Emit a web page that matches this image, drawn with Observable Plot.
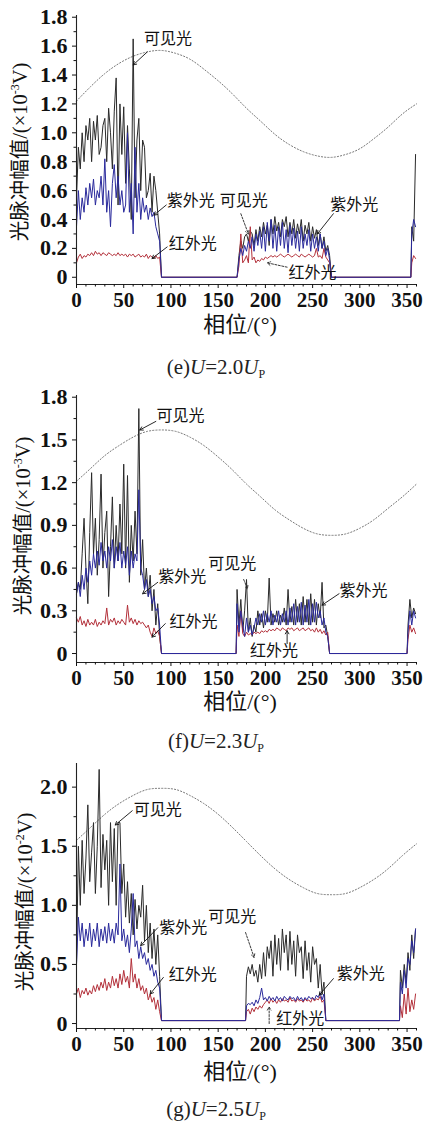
<!DOCTYPE html>
<html><head><meta charset="utf-8">
<script src="https://cdn.jsdelivr.net/npm/d3@7"></script>
<script src="https://cdn.jsdelivr.net/npm/@observablehq/plot@0.6"></script>
<style>
body{margin:0;background:#fff;}
#wrap{position:relative;width:423px;height:1125px;overflow:hidden;font-family:"Liberation Serif","Noto Sans CJK SC",serif;color:#111;}
.abs{position:absolute;white-space:nowrap;line-height:1;}
.ytitle{font-size:20.5px;transform:translate(-50%,-50%) rotate(-90deg);}
.xtitle{font-size:22px;transform:translate(-50%,-50%);}
.cap{font-size:21px;transform:translate(-50%,-50%);color:#222;}
sup{font-size:12px;vertical-align:8px;}
sub{font-size:12px;vertical-align:-4px;}
</style></head><body><div id="wrap"></div>
<script>
// ---------- shared ----------
const xMajor = [0, 50, 100, 150, 200, 250, 300, 350];
const xMinor = [10,20,30,40,60,70,80,90,110,120,130,140,160,170,180,190,210,220,230,240,260,270,280,290,310,320,330,340,360];
const sinePhase = [0,15,30,45,60,75,90,105,120,135,150,165,180,195,210,225,240,255,270,285,300,315,330,345,360];

// ---------- panel (e) U=2.0Up ----------
const yMajorE = [0,0.2,0.4,0.6,0.8,1.0,1.2,1.4,1.6,1.8];
const yMinorE = [0.1,0.3,0.5,0.7,0.9,1.1,1.3,1.5,1.7];
const edgesE = [90, 170, 270, 354];
const baseE = 0;
const phaseE_a = d3.range(0, 90, 2);
const phaseE_b = d3.range(172, 270, 2);
const phaseE_c = [355, 357, 359];
const visE_a = [0.55,0.9,0.75,1.0,0.8,1.05,0.95,1.1,0.8,1.08, 0.95,1.12,0.85,0.9,1.05,1.1,0.8,1.17,1.0,0.75, 1.15,1.38,0.5,1.2,0.85,1.18,0.65,1.05,0.75,0.4, 1.65,0.55,0.95,1.1,0.6,0.95,0.9,0.55,0.6,0.72, 0.45,0.7,0.6,0.45,0.3];
const uvE_a = [0.35,0.6,0.4,0.55,0.45,0.62,0.5,0.65,0.55,0.68, 0.5,0.6,0.55,0.7,0.5,0.82,0.45,0.6,0.35,0.65, 0.78,0.55,0.7,0.5,0.6,0.45,0.5,1.0,0.45,0.65, 0.3,0.9,0.45,0.65,0.4,0.55,0.45,0.5,0.4,0.48, 0.42,0.45,0.35,0.3,0.25];
const irE_a = [0.1,0.14,0.16,0.13,0.15,0.14,0.16,0.15,0.17,0.15, 0.18,0.16,0.17,0.15,0.17,0.16,0.15,0.17,0.16,0.15, 0.16,0.15,0.17,0.15,0.16,0.15,0.16,0.14,0.16,0.15, 0.16,0.14,0.15,0.16,0.14,0.15,0.14,0.16,0.13,0.15, 0.14,0.13,0.15,0.13,0.14];
const visE_b = [0.15,0.25,0.2,0.28,0.3,0.25,0.32,0.3,0.22,0.33, 0.25,0.35,0.28,0.38,0.3,0.36,0.22,0.4,0.3,0.42, 0.32,0.38,0.28,0.4,0.35,0.42,0.28,0.38,0.3,0.4, 0.27,0.37,0.3,0.4,0.25,0.36,0.3,0.38,0.25,0.35, 0.27,0.33,0.22,0.3,0.2,0.28,0.18,0.22,0.15];
const uvE_b = [0.12,0.2,0.15,0.22,0.18,0.25,0.2,0.28,0.18,0.3, 0.22,0.32,0.2,0.35,0.18,0.38,0.25,0.4,0.2,0.36, 0.18,0.35,0.22,0.38,0.2,0.33,0.17,0.36,0.22,0.34, 0.2,0.32,0.18,0.35,0.2,0.3,0.22,0.33,0.18,0.3, 0.2,0.28,0.18,0.3,0.2,0.25,0.15,0.2,0.12];
const irE_b = [0.08,0.3,0.1,0.12,0.15,0.1,0.35,0.12,0.14,0.1, 0.12,0.11,0.13,0.12,0.14,0.13,0.14,0.15,0.14,0.15, 0.14,0.15,0.16,0.15,0.14,0.15,0.16,0.15,0.14,0.15, 0.16,0.15,0.14,0.16,0.15,0.14,0.15,0.16,0.15,0.14, 0.15,0.2,0.14,0.15,0.13,0.2,0.14,0.12,0.1];
const visE_c = [0.35,0.25,0.85];
const uvE_c = [0.3,0.4,0.35];
const irE_c = [0.1,0.15,0.13];
const sineE = [1.22,1.32,1.41,1.48,1.53,1.56,1.57,1.55,1.51,1.44,1.36,1.27,1.17,1.08,0.99,0.92,0.87,0.84,0.83,0.85,0.89,0.96,1.04,1.13,1.20];
const labelsE = [
  {t:"可见光", x:97, y:1.65}, {t:"紫外光", x:121, y:0.53}, {t:"可见光", x:177, y:0.53},
  {t:"红外光", x:123, y:0.23}, {t:"紫外光", x:294, y:0.50}, {t:"红外光", x:250, y:0.03}];
const arrowsE = [
  {x1:75, y1:1.56, x2:60, y2:1.47}, {x1:95, y1:0.50, x2:82, y2:0.43},
  {x1:96, y1:0.21, x2:80, y2:0.13}, {x1:272, y1:0.44, x2:255, y2:0.30}];
const dashArrowsE = [{x1:174, y1:0.44, x2:182, y2:0.30}, {x1:223, y1:0.07, x2:202, y2:0.10}];

// ---------- panel (f) U=2.3Up ----------
const yMajorF = [0,0.3,0.6,0.9,1.2,1.5,1.8];
const yMinorF = [0.15,0.45,0.75,1.05,1.35,1.65];
const edgesF = [90, 169, 268, 350];
const baseF = 0;
const phaseF_a = d3.range(0, 90, 2);
const phaseF_b = d3.range(170, 268, 2);
const phaseF_c = [351, 353, 355, 357, 359];
const visF_a = [0.42,0.5,0.45,0.7,0.95,0.6,0.35,0.85,1.27,0.7, 0.95,0.55,0.8,1.26,0.6,0.85,1.0,0.4,0.75,1.1, 0.6,0.9,0.65,1.05,0.7,1.33,0.6,1.25,0.5,0.9, 0.65,1.0,0.7,1.72,0.55,0.8,0.45,0.6,0.4,0.55, 0.3,0.45,0.2,0.35,0.12];
const uvF_a = [0.42,0.5,0.4,0.55,0.45,0.6,0.5,0.65,0.55,0.7, 0.6,0.72,0.62,0.78,0.65,0.72,0.6,0.75,0.65,0.8, 0.6,0.75,0.65,0.78,0.6,0.72,0.62,0.75,0.55,0.72, 0.6,0.7,0.65,1.15,0.6,0.55,0.45,0.52,0.4,0.45, 0.35,0.4,0.3,0.32,0.2];
const irF_a = [0.25,0.22,0.26,0.2,0.23,0.19,0.24,0.2,0.22,0.2, 0.24,0.19,0.22,0.2,0.23,0.21,0.32,0.2,0.24,0.22, 0.25,0.2,0.23,0.21,0.24,0.22,0.2,0.34,0.22,0.25, 0.21,0.24,0.2,0.23,0.21,0.22,0.2,0.18,0.2,0.15, 0.12,0.18,0.14,0.16,0.12];
const visF_b = [0.45,0.2,0.38,0.15,0.3,0.52,0.15,0.25,0.12,0.2, 0.15,0.3,0.2,0.28,0.18,0.3,0.22,0.53,0.2,0.28, 0.22,0.3,0.2,0.27,0.22,0.32,0.2,0.45,0.22,0.33, 0.2,0.38,0.22,0.35,0.2,0.4,0.22,0.38,0.2,0.42, 0.22,0.38,0.2,0.35,0.25,0.5,0.18,0.2,0.12];
const uvF_b = [0.35,0.15,0.3,0.2,0.12,0.25,0.15,0.2,0.13,0.18, 0.25,0.2,0.28,0.22,0.3,0.2,0.28,0.22,0.3,0.2, 0.27,0.22,0.3,0.2,0.28,0.22,0.3,0.2,0.32,0.22, 0.35,0.2,0.33,0.22,0.36,0.2,0.34,0.22,0.38,0.2, 0.35,0.22,0.36,0.25,0.3,0.2,0.25,0.15,0.12];
const irF_b = [0.2,0.12,0.3,0.14,0.12,0.15,0.13,0.14,0.13,0.15, 0.14,0.15,0.14,0.16,0.15,0.16,0.15,0.17,0.16,0.17, 0.16,0.18,0.17,0.16,0.18,0.17,0.16,0.18,0.17,0.18, 0.16,0.17,0.18,0.16,0.17,0.18,0.16,0.17,0.18,0.16, 0.17,0.15,0.18,0.15,0.17,0.14,0.16,0.13,0.15];
const visF_c = [0.2,0.38,0.25,0.32,0.28];
const uvF_c = [0.15,0.3,0.2,0.3,0.25];
const irF_c = [0.1,0.2,0.15,0.18,0.14];
const sineF = [1.21,1.30,1.39,1.46,1.52,1.56,1.57,1.56,1.52,1.46,1.38,1.29,1.19,1.10,1.01,0.94,0.88,0.84,0.83,0.84,0.88,0.94,1.02,1.10,1.19];
const labelsF = [
  {t:"可见光", x:110, y:1.67}, {t:"紫外光", x:112, y:0.54}, {t:"可见光", x:165, y:0.63},
  {t:"红外光", x:124, y:0.22}, {t:"紫外光", x:304, y:0.44}, {t:"红外光", x:209, y:0.02}];
const arrowsF = [
  {x1:84, y1:1.63, x2:67, y2:1.57}, {x1:86, y1:0.50, x2:70, y2:0.42},
  {x1:94, y1:0.21, x2:80, y2:0.115}, {x1:278, y1:0.42, x2:260, y2:0.34},
  {x1:223, y1:0.07, x2:223, y2:0.16}];
const dashArrowsF = [{x1:177, y1:0.52, x2:181, y2:0.455}];

// ---------- panel (g) U=2.5Up ----------
const yMajorG = [0,0.5,1.0,1.5,2.0];
const yMinorG = [0.25,0.75,1.25,1.75];
const edgesG = [90, 179, 264, 342];
const baseG = 0.025;
const phaseG_a = d3.range(0, 90, 2);
const phaseG_b = d3.range(180, 264, 2);
const phaseG_c = [343, 345, 347, 349, 351, 353, 355, 357, 359];
const visG_a = [0.5,1.5,1.0,1.55,1.1,1.4,1.85,1.2,1.45,1.7, 1.1,1.5,2.15,1.15,1.6,1.3,1.55,1.0,1.7,1.2, 1.65,1.0,1.7,1.7,1.1,1.35,0.9,1.2,0.85,1.1, 0.75,1.05,0.8,1.0,0.9,1.17,0.7,1.0,0.6,0.85, 0.55,0.8,0.5,0.75,0.4];
const uvG_a = [0.5,0.9,0.7,0.85,0.65,0.8,0.7,0.85,0.65,0.8, 0.7,0.85,0.65,0.8,0.7,0.82,0.68,0.85,0.7,0.8, 0.68,0.85,0.75,1.35,0.7,0.8,0.65,0.75,0.6,0.8, 1.1,0.65,0.7,0.55,0.65,0.55,0.6,0.5,0.55,0.45, 0.5,0.4,0.45,0.35,0.3];
const irG_a = [0.25,0.3,0.22,0.28,0.25,0.3,0.24,0.28,0.25,0.32, 0.27,0.33,0.28,0.35,0.3,0.38,0.28,0.35,0.3,0.4, 0.32,0.38,0.3,0.42,0.33,0.45,0.35,0.4,0.3,0.55, 0.35,0.42,0.3,0.38,0.28,0.32,0.25,0.3,0.2,0.25, 0.18,0.22,0.12,0.2,0.1];
const visG_b = [0.4,0.48,0.42,0.5,0.4,0.45,0.35,0.5,0.38,0.6, 0.4,0.65,0.55,0.7,0.4,0.75,0.5,0.72,0.45,0.8, 0.6,0.75,0.45,0.78,0.5,0.7,0.4,0.75,0.6,0.65, 0.38,0.7,0.45,0.6,0.35,0.65,0.5,0.55,0.3,0.5, 0.25,0.35];
const uvG_b = [0.15,0.17,0.16,0.18,0.15,0.2,0.17,0.22,0.3,0.2, 0.22,0.19,0.23,0.2,0.22,0.19,0.23,0.2,0.22,0.19, 0.23,0.21,0.2,0.23,0.21,0.22,0.19,0.23,0.2,0.22, 0.19,0.22,0.2,0.23,0.21,0.22,0.2,0.24,0.22,0.26, 0.2,0.25];
const irG_b = [0.1,0.12,0.08,0.13,0.1,0.14,0.12,0.15,0.13,0.16, 0.18,0.2,0.17,0.21,0.18,0.2,0.17,0.2,0.18,0.21, 0.19,0.2,0.18,0.22,0.19,0.2,0.18,0.21,0.19,0.2, 0.18,0.21,0.19,0.2,0.18,0.22,0.19,0.21,0.2,0.23, 0.18,0.2];
const visG_c = [0.45,0.3,0.5,0.35,0.6,0.45,0.75,0.55,0.8];
const uvG_c = [0.35,0.25,0.45,0.3,0.55,0.5,0.7,0.6,0.8];
const irG_c = [0.15,0.05,0.25,0.08,0.3,0.1,0.2,0.12,0.25];
const sineG = [1.55,1.66,1.77,1.86,1.93,1.98,1.99,1.98,1.93,1.86,1.77,1.66,1.54,1.42,1.31,1.22,1.15,1.10,1.09,1.10,1.15,1.22,1.31,1.42,1.52];
const labelsG = [
  {t:"可见光", x:86, y:1.81}, {t:"紫外光", x:113, y:0.81}, {t:"可见光", x:165, y:0.90},
  {t:"红外光", x:123, y:0.41}, {t:"紫外光", x:301, y:0.42}, {t:"红外光", x:237, y:0.04}];
const arrowsG = [
  {x1:59, y1:1.80, x2:41, y2:1.68}, {x1:86, y1:0.81, x2:68, y2:0.66},
  {x1:92, y1:0.39, x2:78, y2:0.25}, {x1:272, y1:0.38, x2:257, y2:0.24}];
const dashArrowsG = [{x1:179, y1:0.77, x2:188, y2:0.56}, {x1:204, y1:0.0, x2:204, y2:0.14}];

// ---------- build ----------
function series(pa, pb, pc, edges, base, a, b, c) {
  const out = [];
  pa.forEach((p, i) => out.push({phase: p, value: a[i]}));
  out.push({phase: edges[0], value: base}, {phase: edges[1], value: base});
  pb.forEach((p, i) => out.push({phase: p, value: b[i]}));
  out.push({phase: edges[2], value: base}, {phase: edges[3], value: base});
  pc.forEach((p, i) => out.push({phase: p, value: c[i]}));
  return out.filter(d => d.value !== undefined);
}

const wrap = document.getElementById("wrap");
function addDiv(cls, html, left, top) {
  const d = document.createElement("div");
  d.className = "abs " + cls;
  d.innerHTML = html;
  d.style.left = left + "px";
  d.style.top = top + "px";
  wrap.appendChild(d);
}

function panel(cfg) {
  const vis = series(cfg.pa, cfg.pb, cfg.pc, cfg.edges, cfg.base, cfg.vis[0], cfg.vis[1], cfg.vis[2]);
  const uv = series(cfg.pa, cfg.pb, cfg.pc, cfg.edges, cfg.base, cfg.uv[0], cfg.uv[1], cfg.uv[2]);
  const ir = series(cfg.pa, cfg.pb, cfg.pc, cfg.edges, cfg.base, cfg.ir[0], cfg.ir[1], cfg.ir[2]);
  const sine = sinePhase.map((p, i) => ({phase: p, value: cfg.sine[i]}));
  const fmt = d => d === 0 ? "0" : d.toFixed(1);
  const svg = Plot.plot({
    width: 423, height: cfg.h,
    marginTop: 15, marginBottom: 28, marginLeft: 76, marginRight: 7,
    style: {fontFamily: "Liberation Serif, serif", fontSize: "21px", color: "#111", background: "transparent", overflow: "visible"},
    x: {domain: [0, 360]},
    y: {domain: cfg.yDomain},
    marks: [
      Plot.line(sine, {x: "phase", y: "value", curve: "natural", stroke: "#777", strokeWidth: 1, strokeDasharray: "1.2,2"}),
      Plot.line(vis, {x: "phase", y: "value", stroke: "#2a2a2a", strokeWidth: 1}),
      Plot.line(ir, {x: "phase", y: "value", stroke: "#b3303a", strokeWidth: 1}),
      Plot.line(uv, {x: "phase", y: "value", stroke: "#2a2a9c", strokeWidth: 1}),
      Plot.text(cfg.labels, {x: "x", y: "y", text: "t", fontSize: 16, fontFamily: "Noto Sans CJK SC", fontWeight: "normal", fill: "#111"}),
      Plot.arrow(cfg.arrows, {x1: "x1", y1: "y1", x2: "x2", y2: "y2", stroke: "#111", strokeWidth: 0.9, headLength: 6}),
      Plot.arrow(cfg.dashArrows, {x1: "x1", y1: "y1", x2: "x2", y2: "y2", stroke: "#222", strokeWidth: 0.9, headLength: 6, strokeDasharray: "2,1.5"}),
      Plot.ruleX([0], {stroke: "#222", strokeWidth: 1.1}),
      Plot.ruleY([cfg.yDomain[0]], {stroke: "#222", strokeWidth: 1.1}),
      Plot.axisX({ticks: xMajor, tickSize: 4, tickPadding: 4, tickFormat: d => String(d), label: null, fontWeight: "bold", fontSize: 21}),
      Plot.axisX({ticks: xMinor, tickSize: 2.5, tickFormat: () => "", label: null}),
      Plot.axisY({ticks: cfg.yMajor, tickSize: 4, tickPadding: 5, tickFormat: fmt, label: null, fontWeight: "bold", fontSize: 22}),
      Plot.axisY({ticks: cfg.yMinor, tickSize: 2.5, tickFormat: () => "", label: null})
    ]
  });
  svg.style.position = "absolute";
  svg.style.left = "0px";
  svg.style.top = cfg.top + "px";
  wrap.appendChild(svg);
  addDiv("ytitle", cfg.ytitle, cfg.yt[0], cfg.yt[1]);
  addDiv("xtitle", "相位/(°)", 240, cfg.xt);
  addDiv("cap", cfg.cap, 216, cfg.capY);
}

panel({top: 0, h: 312, yDomain: [-0.05, 1.812], yMajor: yMajorE, yMinor: yMinorE,
  pa: phaseE_a, pb: phaseE_b, pc: phaseE_c, edges: edgesE, base: baseE,
  vis: [visE_a, visE_b, visE_c], uv: [uvE_a, uvE_b, uvE_c], ir: [irE_a, irE_b, irE_c],
  sine: sineE, labels: labelsE, arrows: arrowsE, dashArrows: dashArrowsE,
  ytitle: "光脉冲幅值/(×10<sup>-3</sup>V)", yt: [20, 152], xt: 325,
  cap: "(e)<i>U</i>=2.0<i>U</i><sub>P</sub>", capY: 368});

panel({top: 380, h: 310, yDomain: [-0.063, 1.812], yMajor: yMajorF, yMinor: yMinorF,
  pa: phaseF_a, pb: phaseF_b, pc: phaseF_c, edges: edgesF, base: baseF,
  vis: [visF_a, visF_b, visF_c], uv: [uvF_a, uvF_b, uvF_c], ir: [irF_a, irF_b, irF_c],
  sine: sineF, labels: labelsF, arrows: arrowsF, dashArrows: dashArrowsF,
  ytitle: "光脉冲幅值/(×10<sup>-3</sup>V)", yt: [23, 526], xt: 702,
  cap: "(f)<i>U</i>=2.3<i>U</i><sub>P</sub>", capY: 742});

panel({top: 748, h: 308, yDomain: [-0.042, 2.2], yMajor: yMajorG, yMinor: yMinorG,
  pa: phaseG_a, pb: phaseG_b, pc: phaseG_c, edges: edgesG, base: baseG,
  vis: [visG_a, visG_b, visG_c], uv: [uvG_a, uvG_b, uvG_c], ir: [irG_a, irG_b, irG_c],
  sine: sineG, labels: labelsG, arrows: arrowsG, dashArrows: dashArrowsG,
  ytitle: "光脉冲幅值/(×10<sup>-2</sup>V)", yt: [25, 902], xt: 1072,
  cap: "(g)<i>U</i>=2.5<i>U</i><sub>P</sub>", capY: 1110});
</script></body></html>
